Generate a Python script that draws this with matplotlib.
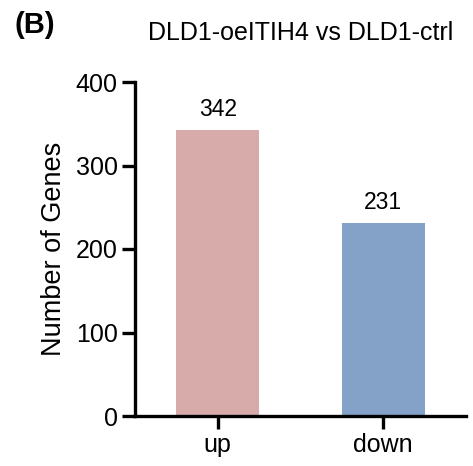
import matplotlib.pyplot as plt

categories = ['up', 'down']
counts = [342, 231]
bar_colors = ['#D8ABAB', '#84A2C8']
y_ticks = [0, 100, 200, 300, 400]

plt.rcParams['font.family'] = ['Liberation Sans', 'DejaVu Sans']

fig = plt.figure(figsize=(4.73, 4.66), dpi=100)
ax = fig.add_axes([135 / 473, 50 / 466, 331 / 473, 334 / 466])

x = range(len(categories))
ax.bar(x, counts, width=0.5, color=bar_colors)

for xi, c in zip(x, counts):
    ax.text(xi, c + 11, str(c), ha='center', va='bottom', fontsize=16.5)

ax.set_xlim(-0.5, 1.5)
ax.set_ylim(0, 400)
ax.set_yticks(y_ticks)
ax.set_xticks(list(x))
ax.set_xticklabels(categories)

for side in ['top', 'right']:
    ax.spines[side].set_visible(False)
for side in ['left', 'bottom']:
    ax.spines[side].set_linewidth(2.4)
ax.spines['left'].set_bounds(0, 400)
ax.tick_params(width=2.4, length=9.5, labelsize=18, pad=3)

ax.set_ylabel('Number of Genes', fontsize=19.5, labelpad=6)
ax.set_title('DLD1-oeITIH4 vs DLD1-ctrl', fontsize=18, pad=30)
fig.text(15 / 473, 1 - 25 / 466, '(B)', fontsize=21, fontweight='bold', va='center')

fig.savefig('out.png', dpi=100)
